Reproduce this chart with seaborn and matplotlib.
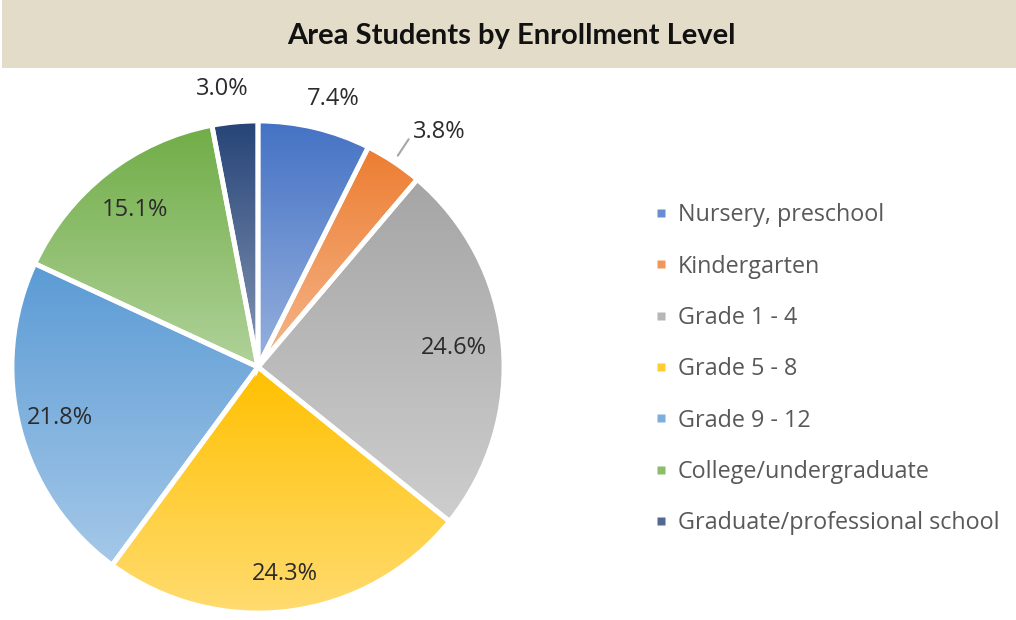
import numpy as np
import matplotlib
matplotlib.use("Agg")
import matplotlib.pyplot as plt
import matplotlib.colors as mcolors
from matplotlib.lines import Line2D
from matplotlib.patches import Rectangle
import seaborn as sns

# ---- data ----
categories = ["Nursery, preschool", "Kindergarten", "Grade 1 - 4", "Grade 5 - 8",
              "Grade 9 - 12", "College/undergraduate", "Graduate/professional school"]
shares = [7.4, 3.8, 24.6, 24.3, 21.8, 15.1, 3.0]
base_colors = ["#4472C4", "#ED7D31", "#A5A5A5", "#FFC000", "#5B9BD5", "#70AD47", "#264478"]
title = "Area Students by Enrollment Level"

sns.set_theme(style="white")
plt.rcParams['font.family'] = ['Open Sans', 'DejaVu Sans']

W, H = 1016, 620
fig = plt.figure(figsize=(W / 100, H / 100), dpi=100)
fig.patch.set_facecolor("white")

# title bar
fig.patches.append(Rectangle((2 / W, 1 - 68 / H), 1 - 2 / W, 68 / H,
                             transform=fig.transFigure, facecolor="#E3DCC9",
                             edgecolor="none", zorder=0))
fig.text(511 / W, 1 - 36 / H, title, ha="center", va="center",
         fontsize=21, fontweight="bold", color="#111111", family=["Lato", "DejaVu Sans"])

# pie axes: center (258, 367) px, radius 246 px
L = 1.25
S = 2 * L * 246
cx, cy = 258, H - 367
ax = fig.add_axes([(cx - S / 2) / W, (cy - S / 2) / H, S / W, S / H])
ax.set_axis_off()

wedges, _ = ax.pie(shares, startangle=90, counterclock=False, radius=1,
                   colors=base_colors,
                   wedgeprops=dict(edgecolor="white", linewidth=3.5))

def tint(c, f):
    r = np.array(mcolors.to_rgb(c))
    return r + (1 - r) * f

for w, c in zip(wedges, base_colors):
    verts = w.get_patch_transform().transform(w.get_path().vertices)
    x0, x1 = verts[:, 0].min(), verts[:, 0].max()
    y0, y1 = verts[:, 1].min(), verts[:, 1].max()
    top = np.array(mcolors.to_rgb(c))
    bot = tint(c, 0.45)
    t = np.linspace(0, 1, 256)[:, None]
    grad = top[None, :] * (1 - t) + bot[None, :] * t
    img = np.repeat(grad[:, None, :], 2, axis=1)
    im = ax.imshow(img, extent=[x0, x1, y0, y1], origin="upper",
                   interpolation="bilinear", zorder=1, aspect="auto")
    im.set_clip_path(w)
    w.set_facecolor("none")
    w.set_zorder(3)

ax.set_xlim(-L, L)
ax.set_ylim(-L, L)
ax.set_aspect("equal")

# labels (radius, angular offset in degrees)
label_r = [1.13, None, 0.80, 0.85, 0.83, 0.81, 1.14]
label_da = [-2.3, 0, 0, 0, 0, 0, 2.0]
for w, v, r, da in zip(wedges, shares, label_r, label_da):
    if r is None:
        continue
    ang = np.deg2rad((w.theta1 + w.theta2) / 2 + da)
    ax.text(r * np.cos(ang), r * np.sin(ang), f"{v:.1f}%", ha="center", va="center",
            fontsize=17, color="#2b2b2b", zorder=5, clip_on=False)

# leader line + label for Kindergarten
w = wedges[1]
ang = np.deg2rad((w.theta1 + w.theta2) / 2)
p0 = (1.03 * np.cos(ang), 1.03 * np.sin(ang))
p1 = (1.11 * np.cos(ang), 1.11 * np.sin(ang))
ax.plot([p0[0], p1[0]], [p0[1], p1[1]], color="#A6A6A6", lw=1.5, zorder=4, clip_on=False)
ax.annotate(f"{shares[1]:.1f}%", xy=p1, xytext=(3, 5), textcoords="offset points",
            ha="left", va="center", fontsize=17, color="#2b2b2b",
            annotation_clip=False)

# legend
handles = [Line2D([0], [0], marker="s", linestyle="none", markersize=6,
                  markerfacecolor=tint(c, 0.2), markeredgecolor="none") for c in base_colors]
leg = fig.legend(handles, categories, loc="upper left",
                 bbox_to_anchor=(645 / W, 1 - 194 / H), frameon=False,
                 fontsize=16.8, labelspacing=1.17, handlelength=0.6, handletextpad=0.4,
                 borderaxespad=0)
for t in leg.get_texts():
    t.set_color("#595959")

fig.savefig("out.png", dpi=100, facecolor="white")
